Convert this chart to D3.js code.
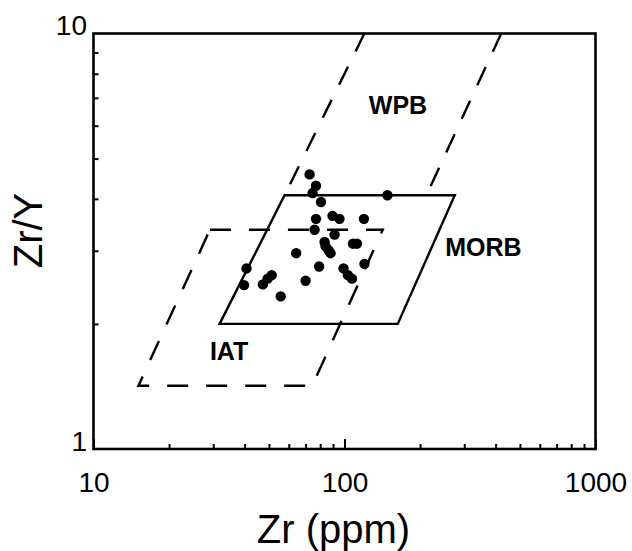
<!DOCTYPE html>
<html>
<head>
<meta charset="utf-8">
<script src="https://cdn.jsdelivr.net/npm/d3@7"></script>
<style>
  html, body { margin: 0; padding: 0; background: #fff; }
  svg { display: block; font-family: "Liberation Sans", Arial, Helvetica, sans-serif; }
</style>
</head>
<body>
<div id="chart"></div>
<script>
// Sample data: Zr (ppm) and Zr/Y
const zr = [72.6, 77.0, 74.6, 148.3, 80.6, 77.0, 89.6, 95.5, 119.5, 76.0,
            91.3, 83.3, 84.0, 86.4, 88.0, 108.1, 112.1, 64.2, 120.1, 99.1,
            79.2, 103.2, 107.1, 70.0, 40.7, 39.8, 47.3, 49.4, 51.3, 55.7];
const zrY = [4.58, 4.30, 4.13, 4.08, 3.93, 3.58, 3.64, 3.58, 3.58, 3.37,
             3.28, 3.15, 3.08, 3.01, 2.96, 3.12, 3.12, 2.96, 2.79, 2.72,
             2.75, 2.62, 2.57, 2.54, 2.72, 2.48, 2.49, 2.57, 2.62, 2.33];

// Discrimination fields (Zr, Zr/Y corners)
const morbZr = [31.8, 163, 275, 57.7];
const morbZrY = [2.0, 2.0, 4.08, 4.08];
const iatZr = [29.1, 142, 74.4, 15.1];
const iatZrY = [3.37, 3.37, 1.42, 1.42];
const wpbLeftZr = [120, 57.7];
const wpbLeftZrY = [10, 4.08];
const wpbRightZr = [421, 212];
const wpbRightZrY = [10, 4.08];

// Field labels
const fieldNames = ["WPB", "MORB", "IAT"];
const fieldZr = [125, 252, 29.1];
const fieldZrY = [6.4, 2.91, 1.64];

const xMajor = [10, 100, 1000];
const yMajor = [1, 10];

const width = 632, height = 551;
const margin = { top: 33.5, left: 93.5, right: 36.5, bottom: 102 };
const innerW = width - margin.left - margin.right;
const innerH = height - margin.top - margin.bottom;

const svg = d3.select("#chart")
  .append("svg")
  .attr("width", width)
  .attr("height", height);

const g = svg.append("g")
  .attr("transform", `translate(${margin.left},${margin.top})`);

const x = d3.scaleLog().domain([10, 1000]).range([0, innerW]);
const y = d3.scaleLog().domain([1, 10]).range([innerH, 0]);

// minor ticks
const xMinor = [];
[10, 100].forEach(d => { for (let k = 2; k <= 9; k++) xMinor.push(d * k); });
const yMinor = d3.range(2, 10);

g.append("g")
  .attr("transform", `translate(0,${innerH})`)
  .call(d3.axisBottom(x).tickValues(xMinor).tickSize(-5).tickFormat(""))
  .call(a => a.select(".domain").remove())
  .selectAll("line").attr("stroke", "#000").attr("stroke-width", 2);

g.append("g")
  .call(d3.axisLeft(y).tickValues(yMinor).tickSize(-5).tickFormat(""))
  .call(a => a.select(".domain").remove())
  .selectAll("line").attr("stroke", "#000").attr("stroke-width", 2);

// major ticks + labels
const xAxis = g.append("g")
  .attr("transform", `translate(0,${innerH})`)
  .call(d3.axisBottom(x).tickValues(xMajor).tickSize(-10).tickPadding(23).tickFormat(d3.format("d")));
xAxis.select(".domain").remove();
xAxis.selectAll("line").attr("stroke", "#000").attr("stroke-width", 2);
xAxis.selectAll("text")
  .attr("fill", "#000")
  .style("font-size", "28px");

const yAxis = g.append("g")
  .call(d3.axisLeft(y).tickValues(yMajor).tickSize(0).tickPadding(6.5).tickFormat(d3.format("d")));
yAxis.select(".domain").remove();
yAxis.selectAll("text")
  .attr("fill", "#000")
  .attr("dy", "0.05em")
  .style("font-size", "28px");

// frame
g.append("rect")
  .attr("width", innerW)
  .attr("height", innerH)
  .attr("fill", "none")
  .attr("stroke", "#000")
  .attr("stroke-width", 2.6);

const line = d3.line().x(d => x(d[0])).y(d => y(d[1]));

// MORB field (solid)
g.append("path")
  .attr("d", line(d3.zip(morbZr, morbZrY)) + "Z")
  .attr("fill", "none")
  .attr("stroke", "#000")
  .attr("stroke-width", 2.4);

// IAT field (dashed)
g.append("path")
  .attr("d", line(d3.zip(iatZr, iatZrY)) + "Z")
  .attr("fill", "none")
  .attr("stroke", "#000")
  .attr("stroke-width", 2.4)
  .attr("stroke-dasharray", "21,18");

// WPB boundaries (dashed)
[[wpbLeftZr, wpbLeftZrY], [wpbRightZr, wpbRightZrY]].forEach(([xs, ys]) => {
  g.append("path")
    .attr("d", line(d3.zip(xs, ys)))
    .attr("fill", "none")
    .attr("stroke", "#000")
    .attr("stroke-width", 2.4)
    .attr("stroke-dasharray", "20,17");
});

// field labels
g.selectAll(".field-label")
  .data(fieldNames)
  .enter()
  .append("text")
  .attr("class", "field-label")
  .attr("x", (d, i) => x(fieldZr[i]))
  .attr("y", (d, i) => y(fieldZrY[i]))
  .attr("font-weight", "bold")
  .style("font-size", "25px")
  .text(d => d);

// sample points
g.selectAll(".pt")
  .data(d3.zip(zr, zrY))
  .enter()
  .append("circle")
  .attr("class", "pt")
  .attr("cx", d => x(d[0]))
  .attr("cy", d => y(d[1]))
  .attr("r", 5.2)
  .attr("fill", "#000");

// axis titles
svg.append("text")
  .attr("x", margin.left + innerW / 2 - 11)
  .attr("y", 543)
  .attr("text-anchor", "middle")
  .style("font-size", "40px")
  .text("Zr (ppm)");

svg.append("text")
  .attr("transform", `translate(42,${margin.top + 197}) rotate(-90)`)
  .attr("text-anchor", "middle")
  .style("font-size", "40px")
  .text("Zr/Y");
</script>
</body>
</html>
